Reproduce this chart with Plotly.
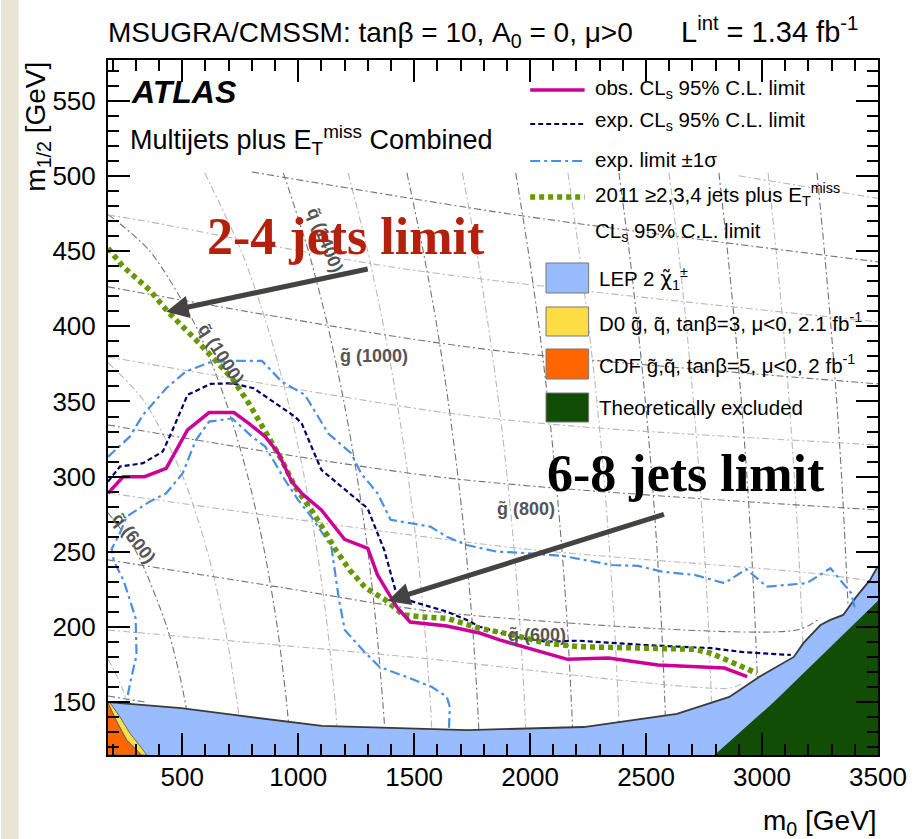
import plotly.graph_objects as go

# ---------------- data ----------------
X_RANGE = [180, 3500]
Y_RANGE = [115, 577]
x_ticks = [500, 1000, 1500, 2000, 2500, 3000, 3500]
y_ticks = [150, 200, 250, 300, 350, 400, 450, 500, 550]

obs_m0 = [180, 245, 338, 431, 523, 616, 723, 787, 858, 915, 972, 1015, 1100, 1200, 1300, 1342,
          1428, 1483, 1641, 1782, 1868, 1996, 2161, 2338, 2551, 2838, 2936]
obs_m12 = [289.0, 300.0, 300.0, 305.6, 331.1, 342.6, 342.6, 335.5, 326.6, 315.6, 296.7, 289.0,
           277.9, 258.4, 252.4, 234.7, 212.7, 203.4, 200.8, 196.1, 191.5, 186.1, 178.6, 179.5,
           174.8, 172.8, 167.1]

exp_m0 = [180, 231, 331, 416, 452, 523, 623, 715, 808, 986, 1015, 1100, 1256, 1299, 1342, 1371,
          1419, 1470, 1556, 1641, 1727, 1782, 1927, 2069, 2210, 2496, 2782, 2923, 3124]
exp_m12 = [296.7, 306.7, 309.0, 316.7, 328.8, 354.4, 361.7, 362.1, 358.8, 339.9, 335.5, 304.5,
           284.5, 279.0, 262.4, 251.3, 224.7, 218.1, 214.1, 210.3, 204.8, 200.3, 193.7, 190.3,
           191.0, 188.1, 186.0, 183.3, 181.5]

up_m0 = [180, 274, 331, 431, 516, 616, 715, 844, 929, 1029, 1129, 1228, 1271, 1342, 1399, 1570,
         1641, 1727, 1855, 1996, 2141, 2355, 2466, 2568, 2709, 2838, 2932, 3021, 3192, 3295, 3385, 3402]
up_m12 = [313.2, 326.6, 341.1, 358.8, 369.9, 375.8, 377.1, 377.0, 363.2, 354.4, 328.9, 315.6,
          302.3, 289.0, 271.3, 266.8, 260.1, 254.6, 250.2, 249.1, 247.3, 241.3, 240.7, 236.9,
          234.7, 229.2, 238.5, 226.9, 229.2, 239.1, 222.5, 211.4]

dn_m0 = [1650, 1654, 1641, 1577, 1479, 1351, 1278, 1201, 1176, 1143, 1057, 1000, 943, 901, 858,
         801, 715, 616, 559, 502, 431, 359, 260, 231, 196, 205, 248, 299, 303, 280, 263]
dn_m12 = [133.0, 146.9, 153.6, 160.2, 166.2, 173.5, 184.8, 198.1, 218.1, 253.5, 273.4, 284.5,
          297.8, 308.9, 320.0, 326.6, 338.8, 336.6, 324.4, 302.3, 289.0, 283.4, 273.4, 262.4,
          252.0, 244.0, 230.7, 206.0, 181.4, 166.0, 153.0]

old_m0 = [180, 245, 359, 438, 559, 630, 715, 787, 872, 929, 986, 1057, 1129, 1157, 1222, 1291,
          1376, 1453, 1534, 1641, 1782, 1927, 2069, 2210, 2496, 2709, 2782, 2850, 2979]
old_m12 = [451.9, 439.7, 424.2, 409.7, 391.0, 378.8, 365.5, 348.8, 326.6, 311.2, 293.4, 277.9,
           260.1, 252.4, 238.0, 226.0, 218.1, 208.1, 206.8, 205.9, 199.2, 194.8, 189.3, 187.0,
           186.0, 185.3, 182.6, 178.2, 169.3]

lep_m0 = [180, 496, 723, 1103, 1731, 2231, 2633, 2859, 2987, 3137, 3179, 3252, 3295, 3350, 3406, 3466, 3500]
lep_m12 = [150.2, 146.2, 141.6, 134.3, 131.6, 133.6, 142.3, 153.6, 166.9, 180.2, 189.5, 201.4,
           204.8, 208.1, 220.1, 231.4, 240.7]

theo_m0 = [2795, 3051, 3500, 3500]
theo_m12 = [115, 150.2, 217.5, 115]

cdf_m0 = [180, 184, 218, 260, 324, 180]
cdf_m12 = [150.2, 148.2, 137.1, 125.0, 115, 115]

d0_m0 = [180, 189, 231, 274, 348, 324, 260, 218, 184]
d0_m12 = [150.2, 149.6, 140.5, 129.6, 115, 115, 125.0, 137.1, 148.2]

# squark iso-mass contours (m0, m1/2 points)
sq400_m0, sq400_m12 = [180, 230, 270], [178.6, 163.6, 147.0]
sq600_m0, sq600_m12 = [180, 302, 434, 486, 513, 519], [276.0, 250, 200, 170, 150, 145]
sq800_m0, sq800_m12 = [180, 337, 503, 609, 684, 737, 745], [375.9, 350, 300, 250, 200, 150, 141]
sq1000_m0 = [180, 360, 559, 688, 783, 855, 910, 950, 958]
sq1000_m12 = [474.4, 450, 400, 350, 300, 250, 200, 150, 137]
sq1200_m0 = [597, 755, 867, 956, 1026, 1082, 1126, 1159, 1167]
sq1200_m12 = [502, 450, 400, 350, 300, 250, 200, 150, 134.5]
sq1400_m0 = [936, 1044, 1128, 1197, 1254, 1301, 1337, 1365, 1373]
sq1400_m12 = [502, 450, 400, 350, 300, 250, 200, 150, 133]
sq1600_m0 = [1215, 1300, 1368, 1426, 1474, 1514, 1545, 1570, 1576]
sq1600_m12 = [502, 450, 400, 350, 300, 250, 200, 150, 132]
sq1800_m0 = [1469, 1539, 1598, 1647, 1689, 1724, 1752, 1773, 1779]
sq1800_m12 = [502, 450, 400, 350, 300, 250, 200, 150, 131.6]
sq2000_m0 = [1708, 1769, 1820, 1864, 1901, 1932, 1957, 1976, 1981]
sq2000_m12 = [502, 450, 400, 350, 300, 250, 200, 150, 132]
sq2200_m0 = [1938, 1992, 2038, 2077, 2110, 2138, 2161, 2178, 2183]
sq2200_m12 = [502, 450, 400, 350, 300, 250, 200, 150, 133]
sq2400_m0 = [2163, 2211, 2252, 2288, 2318, 2343, 2364, 2380, 2383]
sq2400_m12 = [502, 450, 400, 350, 300, 250, 200, 150, 136]
sq2600_m0 = [2383, 2427, 2464, 2497, 2525, 2548, 2567, 2581, 2583]
sq2600_m12 = [502, 450, 400, 350, 300, 250, 200, 150, 141]
sq2800_m0 = [2599, 2640, 2674, 2704, 2730, 2752, 2769, 2782]
sq2800_m12 = [502, 450, 400, 350, 300, 250, 200, 150.5]
sq3000_m0 = [2814, 2851, 2883, 2911, 2935, 2955, 2971, 2980]
sq3000_m12 = [502, 450, 400, 350, 300, 250, 200, 166]
sq3200_m0 = [3026, 3061, 3091, 3117, 3139, 3158, 3173, 3176]
sq3200_m12 = [502, 450, 400, 350, 300, 250, 200, 189]
sq3400_m0 = [3237, 3269, 3297, 3322, 3343, 3360, 3371]
sq3400_m12 = [502, 450, 400, 350, 300, 250, 214]

# gluino iso-mass contours
gl400_m0, gl400_m12 = [180, 338], [154.2, 150.2]
gl500_m0, gl500_m12 = [180, 1479, 2859, 2920], [198.1, 180.2, 159.5, 163.0]
gl600_m0, gl600_m12 = [180, 915, 1641, 3150, 3252], [244.7, 226.7, 209.4, 198.1, 206.1]
gl700_m0, gl700_m12 = [180, 1940, 3209, 3500], [289.2, 252.6, 236.0, 230.0]
gl800_m0, gl800_m12 = [180, 1641, 3500], [334.4, 299.2, 277.9]
gl900_m0, gl900_m12 = [180, 1641, 2227, 3500], [379.6, 342.4, 333.1, 321.1]
gl1000_m0, gl1000_m12 = [180, 616, 1428, 1940, 3500], [426.2, 414.2, 393.0, 382.3, 361.7]
gl1100_m0, gl1100_m12 = [180, 359, 1428, 3500], [474.0, 469.4, 438.8, 402.9]
gl1200_m0, gl1200_m12 = [800, 1940, 3500], [502.6, 474.0, 442.8]
gl1300_m0, gl1300_m12 = [2900, 3500], [500.0, 485.0]

# ---------------- styles ----------------
C_OBS = '#cc0099'
C_EXP = '#000066'
C_SIG = '#4a8fe0'
C_OLD = '#669900'
C_LEP = '#99bbff'
C_D0 = '#ffdd44'
C_CDF = '#ff6600'
C_THEO = '#124d05'
C_GRID_D = '#737373'
C_GRID_L = '#b8b8b8'
FONT = 'Liberation Sans, Arial, Helvetica, sans-serif'
SERIF = 'Liberation Serif, Times New Roman, serif'
DASH_SIG = '10px,4px,3px,4px'
DASH_EXP = '5px,3px'
DASH_OLD = '5px,4px'
DASH_GRID = '7px,3px,2px,3px'

W, H = 919, 839
ML, MR, MT, MB = 108, 34, 60, 84
PW, PH = W - ML - MR, H - MT - MB


def px(x):
    return (x - ML) / PW


def py(y):
    return (MT + PH - y) / PH


fig = go.Figure()

# background mass grid
grid = [
    (sq400_m0, sq400_m12, C_GRID_L), (sq600_m0, sq600_m12, C_GRID_D), (sq800_m0, sq800_m12, C_GRID_L),
    (sq1000_m0, sq1000_m12, C_GRID_D), (sq1200_m0, sq1200_m12, C_GRID_L),
    (sq1400_m0, sq1400_m12, C_GRID_D), (sq1600_m0, sq1600_m12, C_GRID_L),
    (sq1800_m0, sq1800_m12, C_GRID_D), (sq2000_m0, sq2000_m12, C_GRID_L),
    (sq2200_m0, sq2200_m12, C_GRID_D), (sq2400_m0, sq2400_m12, C_GRID_L),
    (sq2600_m0, sq2600_m12, C_GRID_D), (sq2800_m0, sq2800_m12, C_GRID_L),
    (sq3000_m0, sq3000_m12, C_GRID_D), (sq3200_m0, sq3200_m12, C_GRID_L),
    (sq3400_m0, sq3400_m12, C_GRID_D),
    (gl400_m0, gl400_m12, C_GRID_D), (gl500_m0, gl500_m12, C_GRID_L), (gl600_m0, gl600_m12, C_GRID_D),
    (gl700_m0, gl700_m12, C_GRID_L), (gl800_m0, gl800_m12, C_GRID_D), (gl900_m0, gl900_m12, C_GRID_L),
    (gl1000_m0, gl1000_m12, C_GRID_D), (gl1100_m0, gl1100_m12, C_GRID_L),
    (gl1200_m0, gl1200_m12, C_GRID_D), (gl1300_m0, gl1300_m12, C_GRID_L),
]
for gx, gy, gc in grid:
    fig.add_trace(go.Scatter(x=gx, y=gy, mode='lines', hoverinfo='skip',
                             line=dict(color=gc, width=1.1, dash=DASH_GRID, shape='spline', smoothing=0.8)))

# exclusion fills
fig.add_trace(go.Scatter(x=lep_m0 + [3500, 180], y=lep_m12 + [115, 115], fill='toself',
                         fillcolor=C_LEP, mode='lines', line=dict(width=0), hoverinfo='skip'))
fig.add_trace(go.Scatter(x=theo_m0, y=theo_m12, fill='toself', fillcolor=C_THEO, mode='lines',
                         line=dict(width=0), hoverinfo='skip'))
fig.add_trace(go.Scatter(x=d0_m0, y=d0_m12, fill='toself', fillcolor=C_D0, mode='lines',
                         line=dict(width=1, color='#666'), hoverinfo='skip'))
fig.add_trace(go.Scatter(x=cdf_m0, y=cdf_m12, fill='toself', fillcolor=C_CDF, mode='lines',
                         line=dict(width=1, color='#666'), hoverinfo='skip'))
fig.add_trace(go.Scatter(x=lep_m0, y=lep_m12, mode='lines', line=dict(width=1.8, color='#3a3a3a')))

# limit curves
fig.add_trace(go.Scatter(x=up_m0, y=up_m12, mode='lines',
                         line=dict(color=C_SIG, width=2.2, dash=DASH_SIG)))
fig.add_trace(go.Scatter(x=dn_m0, y=dn_m12, mode='lines',
                         line=dict(color=C_SIG, width=2.2, dash=DASH_SIG)))
fig.add_trace(go.Scatter(x=exp_m0, y=exp_m12, mode='lines',
                         line=dict(color=C_EXP, width=2.2, dash=DASH_EXP)))
fig.add_trace(go.Scatter(x=old_m0, y=old_m12, mode='lines',
                         line=dict(color=C_OLD, width=5.5, dash=DASH_OLD)))
fig.add_trace(go.Scatter(x=obs_m0, y=obs_m12, mode='lines', line=dict(color=C_OBS, width=3.5)))

shapes = []
ann = []

# left beige strip
shapes.append(dict(type='rect', xref='paper', yref='paper', x0=px(0), x1=px(18), y0=py(H), y1=py(0),
                   fillcolor='#e9e4d5', line=dict(width=0), layer='below'))

# legend: line samples
leg_lines = [(90, dict(color=C_OBS, width=3.5)),
             (124, dict(color=C_EXP, width=2.2, dash=DASH_EXP)),
             (161, dict(color=C_SIG, width=2.2, dash=DASH_SIG)),
             (197, dict(color=C_OLD, width=5.5, dash=DASH_OLD))]
for yy, ln in leg_lines:
    shapes.append(dict(type='line', xref='paper', yref='paper', x0=px(534), x1=px(589),
                       y0=py(yy), y1=py(yy), line=ln))
LEG_FONT = dict(family=FONT, size=20.5, color='black')
leg_txt = [(89, 'obs. CL<sub>s</sub> 95% C.L. limit'),
           (121, 'exp. CL<sub>s</sub> 95% C.L. limit'),
           (159, 'exp. limit ±1σ'),
           (194, '2011 ≥2,3,4 jets plus E<sub>T</sub><sup>miss</sup>'),
           (232, 'CL<sub>s</sub> 95% C.L. limit')]
for yy, t in leg_txt:
    ann.append(dict(text=t, x=px(597), y=py(yy), xref='paper', yref='paper', xanchor='left',
                    yanchor='middle', showarrow=False, font=LEG_FONT))
# legend boxes
chi = '<span style="font-family:DejaVu Sans">χ̃</span>'
leg_box = [(263, 293, C_LEP, 'LEP 2 ' + chi + '<sub>1</sub><sup>±</sup>'),
           (307, 336, C_D0, 'D0 g̃, q̃, tanβ=3, μ<0, 2.1 fb<sup>-1</sup>'),
           (349, 379, C_CDF, 'CDF g̃,q̃, tanβ=5, μ<0, 2 fb<sup>-1</sup>'),
           (393, 422, C_THEO, 'Theoretically excluded')]
for y0, y1, c, t in leg_box:
    shapes.append(dict(type='rect', xref='paper', yref='paper', x0=px(550), x1=px(593),
                       y0=py(y1), y1=py(y0), fillcolor=c, line=dict(color='#777', width=1)))
    ann.append(dict(text=t, x=px(601), y=py((y0 + y1) / 2), xref='paper', yref='paper',
                    xanchor='left', yanchor='middle', showarrow=False, font=LEG_FONT))

# header texts
ann.append(dict(text='MSUGRA/CMSSM: tanβ = 10, A<sub>0</sub> = 0, μ>0', x=px(106), y=py(34),
                xref='paper', yref='paper', xanchor='left', yanchor='middle', showarrow=False,
                font=dict(family=FONT, size=28, color='black')))
ann.append(dict(text='L<sup>int</sup> = 1.34 fb<sup>-1</sup>', x=px(867), y=py(30),
                xref='paper', yref='paper', xanchor='right', yanchor='middle', showarrow=False,
                font=dict(family=FONT, size=29, color='black')))
ann.append(dict(text='<b><i>ATLAS</i></b>', x=px(129), y=py(92), xref='paper', yref='paper',
                xanchor='left', yanchor='middle', showarrow=False,
                font=dict(family=FONT, size=32, color='black')))
ann.append(dict(text='Multijets plus E<sub>T</sub><sup>miss</sup> Combined', x=px(128), y=py(140),
                xref='paper', yref='paper', xanchor='left', yanchor='middle', showarrow=False,
                font=dict(family=FONT, size=27, color='black')))

# grid labels
LBL_FONT = dict(family=FONT, size=18, color='#555555')
for t, x, y, ang in [('<b>g̃ (1000)</b>', 376, 356, 0), ('<b>g̃ (800)</b>', 530, 509, 0),
                     ('<b>g̃ (600)</b>', 541, 635, 0), ('<b>q̃ (600)</b>', 134, 538, 52),
                     ('<b>q̃ (1000)</b>', 222, 354, 57), ('<b>q̃ (1400)</b>', 327, 240, 68)]:
    ann.append(dict(text=t, x=px(x), y=py(y), xref='paper', yref='paper', xanchor='center',
                    yanchor='middle', showarrow=False, textangle=ang, font=LBL_FONT))

# big annotations
ann.append(dict(text='<b>2-4 jets limit</b>', x=px(348), y=py(236), xref='paper', yref='paper',
                xanchor='center', yanchor='middle', showarrow=False,
                font=dict(family=SERIF, size=52, color='#b5200d')))
ann.append(dict(text='<b>6-8 jets limit</b>', x=px(691), y=py(474), xref='paper', yref='paper',
                xanchor='center', yanchor='middle', showarrow=False,
                font=dict(family=SERIF, size=52, color='black')))
ann.append(dict(text='', x=431, y=409.7, xref='x', yref='y', ax=203, ay=-43, axref='pixel',
                ayref='pixel', showarrow=True, arrowhead=2, arrowsize=0.9, arrowwidth=5,
                arrowcolor='#454242'))
ann.append(dict(text='', x=1385, y=217.4, xref='x', yref='y', ax=278, ay=-87, axref='pixel',
                ayref='pixel', showarrow=True, arrowhead=2, arrowsize=0.9, arrowwidth=5,
                arrowcolor='#454242'))

# axis titles
ann.append(dict(text='m<sub>0</sub> [GeV]', x=px(886), y=py(822), xref='paper', yref='paper',
                xanchor='right', yanchor='middle', showarrow=False,
                font=dict(family=FONT, size=28, color='black')))
ann.append(dict(text='m<sub>1/2</sub> [GeV]', x=px(36), y=py(60), xref='paper', yref='paper',
                xanchor='center', yanchor='top', showarrow=False, textangle=-90,
                font=dict(family=FONT, size=28, color='black')))

axis_common = dict(showgrid=False, zeroline=False, showline=True, linecolor='black', linewidth=2,
                   mirror='allticks', ticks='inside', ticklen=22, tickwidth=2, tickcolor='black',
                   tickfont=dict(family=FONT, size=26, color='black'))

fig.update_layout(
    width=W, height=H, margin=dict(l=ML, r=MR, t=MT, b=MB),
    paper_bgcolor='white', plot_bgcolor='white', showlegend=False,
    xaxis=dict(range=X_RANGE, tickvals=x_ticks, ticklabelstandoff=-2,
               minor=dict(dtick=100, tick0=0, ticklen=11, tickwidth=1.5, tickcolor='black', ticks='inside'),
               **axis_common),
    yaxis=dict(range=Y_RANGE, tickvals=y_ticks, ticklabelstandoff=5,
               minor=dict(dtick=10, tick0=0, ticklen=11, tickwidth=1.5, tickcolor='black', ticks='inside'),
               **axis_common),
    shapes=shapes, annotations=ann,
)

fig.write_html('out.html', config={'displayModeBar': False},
               post_script="document.body.style.margin='0px';document.body.style.overflow='hidden';")
